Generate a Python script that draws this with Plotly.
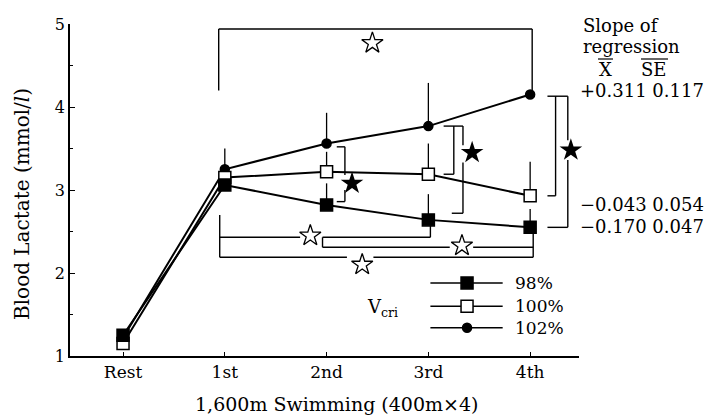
import plotly.graph_objects as go

categories = ["Rest", "1st", "2nd", "3rd", "4th"]
v98 = [1.25, 3.06, 2.82, 2.64, 2.55]
v100 = [1.15, 3.15, 3.22, 3.19, 2.93]
v102 = [1.22, 3.25, 3.56, 3.77, 4.15]
err98 = [0, 0, 0.26, 0.31, 0.22]
err100 = [0, 0, 0.24, 0.37, 0.41]
err102 = [0, 0.25, 0.37, 0.52, 0]
legend_labels = ["98%", "100%", "102%"]
slopes = ["+0.311 0.117", "\u22120.043 0.054", "\u22120.170 0.047"]

FONT = "DejaVu Serif"
x = list(range(len(categories)))

fig = go.Figure()

def series(vals, errs, symbol, fill, size):
    fig.add_trace(go.Scatter(
        x=x, y=vals, mode="lines+markers",
        line=dict(color="black", width=2),
        marker=dict(symbol=symbol, size=size, color=fill, line=dict(color="black", width=1.5)),
        error_y=dict(type="data", symmetric=False, array=errs, arrayminus=[0]*len(errs),
                     color="black", thickness=1.3, width=0),
        showlegend=False, cliponaxis=False, hoverinfo="skip"))

series(v102, err102, "circle", "black", 9)
series(v100, err100, "square", "white", 12)
series(v98, err98, "square", "black", 12)

shapes = []
def seg(x0, y0, x1, y1, w=1.4):
    shapes.append(dict(type="line", xref="x", yref="y", x0=x0, y0=y0, x1=x1, y1=y1,
                       line=dict(color="black", width=w)))

# top bracket (1st vs 4th, 102%)
seg(0.94, 4.20, 0.94, 4.94)
seg(0.94, 4.94, 4.02, 4.94)
seg(4.02, 4.94, 4.02, v102[4] + 0.05)

# bottom brackets (98%)
seg(0.95, 2.70, 0.95, 2.19)
seg(0.95, 2.43, 1.74, 2.43)
seg(1.96, 2.43, 3.02, 2.43)
seg(3.02, 2.43, 3.02, v98[3] - 0.07)
seg(1.96, 2.43, 1.96, 2.31)
seg(1.96, 2.31, 3.21, 2.31)
seg(3.44, 2.31, 4.03, 2.31)
seg(0.95, 2.19, 2.20, 2.19)
seg(2.46, 2.19, 4.03, 2.19)
seg(4.03, 2.19, 4.03, v98[4] - 0.07)

# right brackets at 2nd
seg(2.10, v102[2] - 0.04, 2.18, v102[2] - 0.04)
seg(2.18, v102[2] - 0.04, 2.18, 3.18)
seg(2.18, 3.00, 2.18, v98[2] + 0.04)
seg(2.10, v98[2] + 0.04, 2.18, v98[2] + 0.04)
# at 3rd
seg(3.15, v102[3], 3.34, v102[3])
seg(3.25, v102[3], 3.25, v100[3])
seg(3.15, v100[3], 3.25, v100[3])
seg(3.34, v102[3], 3.34, 3.54)
seg(3.34, 3.33, 3.34, v98[3] + 0.08)
seg(3.23, v98[3] + 0.08, 3.34, v98[3] + 0.08)
# at 4th
seg(4.17, v102[4] - 0.02, 4.37, v102[4] - 0.02)
seg(4.25, v102[4] - 0.02, 4.25, v100[4])
seg(4.17, v100[4], 4.25, v100[4])
seg(4.37, v102[4] - 0.02, 4.37, 3.60)
seg(4.37, 3.36, 4.37, v98[4])
seg(4.17, v98[4], 4.37, v98[4])

# stars
fig.add_trace(go.Scatter(x=[2.45, 1.84, 3.33, 2.35], y=[4.77, 2.45, 2.33, 2.10], mode="markers",
                         marker=dict(symbol="star-open", size=16, color="black", line=dict(width=1.3)),
                         showlegend=False, cliponaxis=False, hoverinfo="skip"))
fig.add_trace(go.Scatter(x=[2.25, 3.43, 4.40], y=[3.08, 3.45, 3.48], mode="markers",
                         marker=dict(symbol="star", size=17, color="black"),
                         showlegend=False, cliponaxis=False, hoverinfo="skip"))

# manual legend
leg_y = [1.88, 1.60, 1.34]
leg_sym = [("square", "black", 12), ("square", "white", 12), ("circle", "black", 9)]
annotations = []
for ly, (sym, col, sz), lab in zip(leg_y, leg_sym, legend_labels):
    fig.add_trace(go.Scatter(x=[3.02, 3.73], y=[ly, ly], mode="lines",
                             line=dict(color="black", width=1.5), showlegend=False, hoverinfo="skip"))
    fig.add_trace(go.Scatter(x=[3.38], y=[ly], mode="markers",
                             marker=dict(symbol=sym, size=sz, color=col, line=dict(color="black", width=1.5)),
                             showlegend=False, hoverinfo="skip"))
    annotations.append(dict(x=3.83, y=ly, xref="x", yref="y", text=lab, showarrow=False,
                            xanchor="left", yanchor="middle", font=dict(family=FONT, size=17, color="black")))
annotations.append(dict(x=2.55, y=1.58, xref="x", yref="y", text="V<sub>cri</sub>", showarrow=False,
                        xanchor="center", yanchor="middle", font=dict(family=FONT, size=18, color="black")))

# right-side text (paper coords from pixel positions)
def px(p):
    return (p - 70) / 509.0
def py(p):
    return (356 - p) / 332.0

txt = dict(family=FONT, size=18, color="black")
annotations.append(dict(x=px(581), y=py(25), xref="paper", yref="paper", text="Slope of",
                        showarrow=False, xanchor="left", yanchor="middle", font=txt))
annotations.append(dict(x=px(581), y=py(47), xref="paper", yref="paper", text="regression",
                        showarrow=False, xanchor="left", yanchor="middle", font=txt))
annotations.append(dict(x=px(597), y=py(70), xref="paper", yref="paper", text="X",
                        showarrow=False, xanchor="left", yanchor="middle", font=txt))
annotations.append(dict(x=px(639), y=py(70), xref="paper", yref="paper", text="SE",
                        showarrow=False, xanchor="left", yanchor="middle", font=txt))
for s, yy in zip(slopes, [90, 204, 226]):
    annotations.append(dict(x=px(578), y=py(yy), xref="paper", yref="paper", text=s,
                            showarrow=False, xanchor="left", yanchor="middle", font=txt))
for a, b in [(598, 613), (641, 668)]:
    shapes.append(dict(type="line", xref="paper", yref="paper", x0=px(a), x1=px(b),
                       y0=py(59), y1=py(59), line=dict(color="black", width=1.2)))

# axis titles
annotations.append(dict(x=px(336), y=py(404), xref="paper", yref="paper",
                        text="1,600m Swimming (400m\u00d74)", showarrow=False,
                        xanchor="center", yanchor="middle", font=dict(family=FONT, size=19, color="black")))
annotations.append(dict(x=px(22), y=py(204), xref="paper", yref="paper",
                        text="Blood Lactate (mmol/<i>l</i>)", showarrow=False, textangle=-90,
                        xanchor="center", yanchor="middle", font=dict(family=FONT, size=20, color="black")))

fig.update_layout(
    width=710, height=417,
    margin=dict(l=70, r=131, t=24, b=61),
    paper_bgcolor="white", plot_bgcolor="white",
    shapes=shapes, annotations=annotations,
    font=dict(family=FONT, size=16, color="black"),
    hovermode=False,
    xaxis=dict(range=[-0.521, 4.48], tickmode="array", tickvals=x, ticktext=categories,
               ticks="inside", ticklen=4, tickcolor="black", showline=True, linecolor="black",
               linewidth=1.8, showgrid=False, zeroline=False,
               tickfont=dict(family=FONT, size=17, color="black")),
    yaxis=dict(range=[1, 5], tick0=1, dtick=1, ticks="inside", ticklen=5, tickcolor="black",
               showline=True, linecolor="black", linewidth=1.8, showgrid=False, zeroline=False,
               minor=dict(tick0=1, dtick=0.5, ticks="inside", ticklen=3, tickcolor="black", showgrid=False),
               tickfont=dict(family=FONT, size=16, color="black")),
)

fig.write_html("out.html", config={"displayModeBar": False},
               post_script="document.body.style.margin='0px';")
